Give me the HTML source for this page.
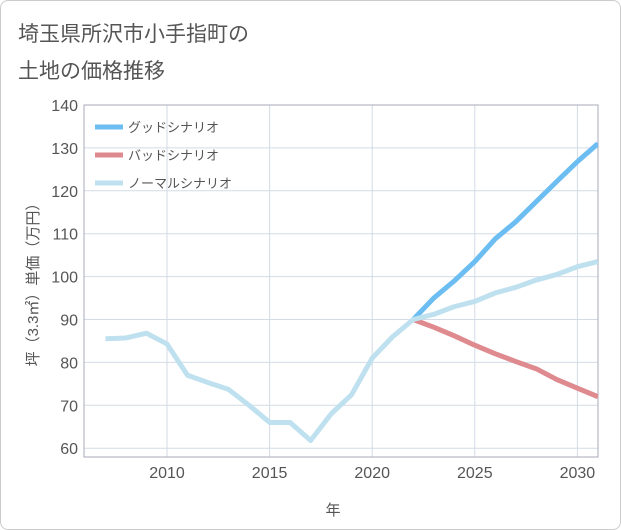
<!DOCTYPE html>
<html><head><meta charset="utf-8"><style>
body{margin:0;background:#fff;}
#wrap{width:619px;height:528px;border:1px solid #ccc;border-radius:8px;position:relative;overflow:hidden;}
svg text{font-family:"Liberation Sans","Noto Sans CJK JP",sans-serif;}
</style></head><body>
<div id="wrap">
<svg id="chart" width="621" height="530">
<text x="17" y="40" font-size="21" fill="#555">埼玉県所沢市小手指町の</text>
<text x="17" y="77" font-size="21" fill="#555">土地の価格推移</text>
<text x="332" y="514" font-size="15" fill="#555" text-anchor="middle">年</text>
<text transform="translate(37,280) rotate(-90)" font-size="15" fill="#555" text-anchor="middle">坪（3.3㎡）単価（万円）</text>
</svg>
</div>
<script>
const years=[2007,2008,2009,2010,2011,2012,2013,2014,2015,2016,2017,2018,2019,2020,2021,2022,2023,2024,2025,2026,2027,2028,2029,2030,2031];
const normal=[85.5,85.7,86.8,84.3,77,75.3,73.7,70,66,66,61.8,68,72.5,81,86,90,91.2,93,94.2,96.2,97.5,99.2,100.5,102.3,103.5];
const goodYears=[2022,2023,2024,2025,2026,2027,2028,2029,2030,2031];
const good=[90,95,99,103.5,108.8,112.8,117.5,122.2,126.8,131];
const bad=[90,88.2,86.2,84,82,80.2,78.5,76,74,72];
const yTicks=[60,70,80,90,100,110,120,130,140];
const xTicks=[2010,2015,2020,2025,2030];
const L=83,R=597,T=104,B=456;
const X=y=>166+(y-2010)*20.52;
const Y=v=>104+(140-v)*4.29;
const svg=document.getElementById('chart');
const NS='http://www.w3.org/2000/svg';
function mk(t,a){const e=document.createElementNS(NS,t);for(const k in a)e.setAttribute(k,a[k]);svg.appendChild(e);return e;}
yTicks.forEach(v=>{const l=mk('line',{x1:L,x2:R,y1:Y(v),y2:Y(v),stroke:'#d3dbe6','stroke-width':1});

const t=mk('text',{x:L-6,y:Y(v)+6,'font-size':16,fill:'#555','text-anchor':'end'});t.textContent=v;
});
xTicks.forEach(v=>{const l=mk('line',{x1:X(v),x2:X(v),y1:T,y2:B,stroke:'#d3dbe6','stroke-width':1});

const t=mk('text',{x:X(v),y:B+21,'font-size':16,fill:'#555','text-anchor':'middle'});t.textContent=v;
});
const fr=mk('rect',{x:L,y:T,width:R-L,height:B-T,fill:'none',stroke:'#aab','stroke-width':1});

const cp=mk('clipPath',{id:'cp'});const cr=document.createElementNS(NS,'rect');
cr.setAttribute('x',L);cr.setAttribute('y',T);cr.setAttribute('width',R-L);cr.setAttribute('height',B-T);cp.appendChild(cr);
function line(xs,vs,c,name){const p=mk('polyline',{points:xs.map((y,i)=>X(y)+','+Y(vs[i])).join(' '),fill:'none',stroke:c,'stroke-width':5,'stroke-linejoin':'round','clip-path':'url(#cp)'});
}
line(goodYears,good,'#6cbdf2','good-scenario-line');
line(goodYears,bad,'#de8a8f','bad-scenario-line');
line(years,normal,'#bfe1ef','normal-scenario-line');
[['グッドシナリオ','#6cbdf2'],['バッドシナリオ','#de8a8f'],['ノーマルシナリオ','#bfe1ef']].forEach((d,i)=>{
const y=126+i*28;const l=mk('line',{x1:94,x2:122,y1:y,y2:y,stroke:d[1],'stroke-width':5});

const t=mk('text',{x:127,y:y+5,'font-size':13,fill:'#555'});t.textContent=d[0];
});
</script>
</body></html>
